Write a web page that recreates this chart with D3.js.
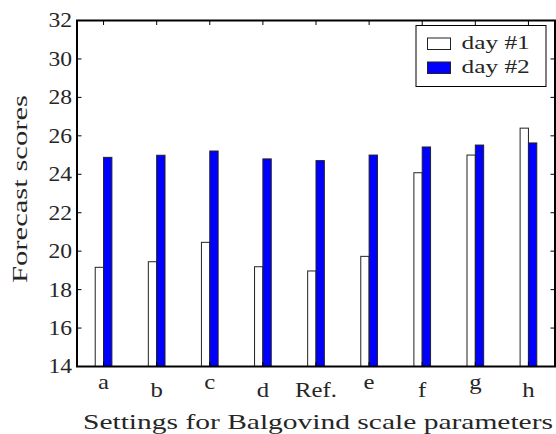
<!DOCTYPE html>
<html>
<head>
<meta charset="utf-8">
<script src="https://cdn.jsdelivr.net/npm/d3@7"></script>
<style>
  body { margin: 0; background: #fff; }
  svg { display: block; }
  text { fill: #262626; }
</style>
</head>
<body>
<div id="chart"></div>
<script>
// ── Data ───────────────────────────────────────────────────
var categories = ["a", "b", "c", "d", "Ref.", "e", "f", "g", "h"];
var day1 = [19.16, 19.45, 20.46, 19.19, 18.97, 19.73, 24.08, 25.0, 26.4];
var day2 = [24.88, 24.99, 25.21, 24.8, 24.71, 25.0, 25.42, 25.52, 25.63];
var seriesNames = ["day #1", "day #2"];
var seriesColors = ["#ffffff", "#0000ff"];
var yTicks = [14, 16, 18, 20, 22, 24, 26, 28, 30, 32];
var xTitle = "Settings for Balgovind scale parameters";
var yTitle = "Forecast scores";

// DejaVu Serif is not on the box; Liberation Serif widened to match it
var FONT = "'Liberation Serif', serif";

var W = 556, H = 434;
var margin = { top: 20.5, right: 1, bottom: 67.5, left: 77 };
var iW = W - margin.left - margin.right;
var iH = H - margin.top - margin.bottom;

var svg = d3.select("#chart").append("svg")
  .attr("width", W)
  .attr("height", H)
  .style("font-family", FONT);
var g = svg.append("g")
  .attr("transform", "translate(" + margin.left + "," + margin.top + ")");

function widen(sel, k) {
  sel.each(function () {
    var n = this.getComputedTextLength();
    d3.select(this).attr("textLength", n * k).attr("lengthAdjust", "spacingAndGlyphs");
  });
}

var x = d3.scaleBand().domain(categories).range([0, iW]);
var y = d3.scaleLinear().domain([14, 32]).range([iH, 0]);
var barW = x.bandwidth() * 0.157;
function cx(c) { return x(c) + x.bandwidth() / 2; }

// ── Bars: day #1 left of the tick, day #2 right of it ──────
var series = [day1, day2];
series.forEach(function (vals, s) {
  g.selectAll(".bar-" + s)
    .data(categories)
    .join("rect")
    .attr("class", "bar-" + s)
    .attr("x", function (c) { return cx(c) - (s === 0 ? barW : 0); })
    .attr("width", barW)
    .attr("y", function (c, i) { return y(vals[i]); })
    .attr("height", function (c, i) { return iH - y(vals[i]); })
    .attr("fill", seriesColors[s])
    .attr("stroke", "#222")
    .attr("stroke-width", 1);
});

// ── Ticks, pointing inward on all four sides ───────────────
var tickLen = 4.5;
g.selectAll(".ytl").data(yTicks).join("line")
  .attr("x1", 0).attr("x2", tickLen)
  .attr("y1", function (d) { return y(d); }).attr("y2", function (d) { return y(d); })
  .attr("stroke", "#000");
g.selectAll(".ytr").data(yTicks).join("line")
  .attr("x1", iW - tickLen).attr("x2", iW)
  .attr("y1", function (d) { return y(d); }).attr("y2", function (d) { return y(d); })
  .attr("stroke", "#000");
g.selectAll(".xtt").data(categories).join("line")
  .attr("x1", cx).attr("x2", cx)
  .attr("y1", 0).attr("y2", tickLen)
  .attr("stroke", "#000");
g.selectAll(".xtb").data(categories).join("line")
  .attr("x1", cx).attr("x2", cx)
  .attr("y1", iH - tickLen).attr("y2", iH)
  .attr("stroke", "#000");

// frame
g.append("rect")
  .attr("width", iW).attr("height", iH)
  .attr("fill", "none").attr("stroke", "#000").attr("stroke-width", 2);

// ── Tick labels ────────────────────────────────────────────
g.selectAll(".ylab").data(yTicks).join("text")
  .attr("class", "ylab")
  .attr("x", -5)
  .attr("y", function (d) { return y(d); })
  .attr("dy", "0.34em")
  .attr("text-anchor", "end")
  .attr("font-size", 20.5)
  .text(function (d) { return d; })
  .call(widen, 1.15);

// old matplotlib aligned on glyph ink, so short letters sit higher
g.selectAll(".xlab").data(categories).join("text")
  .attr("class", "xlab")
  .attr("x", cx)
  .attr("y", function (c) { return /[A-Zbdfhklt]/.test(c) ? iH + 30 : iH + 22.5; })
  .attr("text-anchor", "middle")
  .attr("font-size", 21.5)
  .text(function (c) { return c; })
  .call(widen, 1.15);

// ── Axis titles ────────────────────────────────────────────
svg.append("text")
  .attr("x", 83)
  .attr("y", 429)
  .attr("font-size", 22)
  .attr("textLength", 470)
  .attr("lengthAdjust", "spacingAndGlyphs")
  .text(xTitle);

svg.append("text")
  .attr("transform", "translate(27,283) rotate(-90)")
  .attr("font-size", 22)
  .attr("textLength", 188)
  .attr("lengthAdjust", "spacingAndGlyphs")
  .text(yTitle);

// ── Legend ─────────────────────────────────────────────────
var leg = svg.append("g").attr("transform", "translate(416,25.5)");
leg.append("rect")
  .attr("width", 130).attr("height", 61)
  .attr("fill", "#fff").attr("stroke", "#000").attr("stroke-width", 1);
seriesNames.forEach(function (name, s) {
  var row = leg.append("g").attr("transform", "translate(0," + (12.5 + s * 24) + ")");
  row.append("rect")
    .attr("x", 11.5).attr("width", 23).attr("height", 11.5)
    .attr("fill", seriesColors[s]).attr("stroke", "#222");
  row.append("text")
    .attr("x", 45.5).attr("y", 10.5)
    .attr("font-size", 19.5)
    .text(name)
    .call(widen, 1.3);
});
</script>
</body>
</html>
